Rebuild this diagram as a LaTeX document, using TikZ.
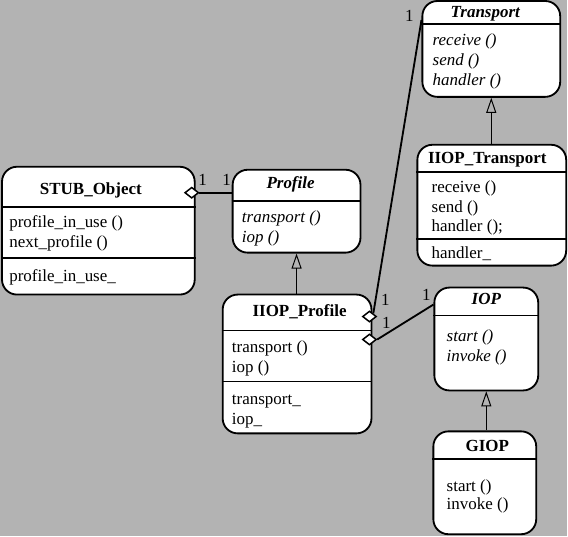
\documentclass[tikz,border=0pt]{standalone}
\usepackage{fontspec}
\setmainfont{Liberation Serif}
\usetikzlibrary{arrows.meta, fit, shapes.geometric}
\definecolor{bggray}{RGB}{179,179,179}

\begin{document}
\begin{tikzpicture}[x=0.6pt, y=-0.6pt,
    every node/.style={font=\fontsize{10.2}{12}\selectfont},
    classbox/.style={draw, fill=white, line width=1.1pt, rounded corners=9pt, inner sep=0pt},
    divider/.style={line width=1.1pt},
    member/.style={anchor=base west, inner sep=0pt},
    title/.style={anchor=base, inner sep=0pt, font=\fontsize{10.2}{12}\selectfont\bfseries},
    abstitle/.style={title, font=\fontsize{10.2}{12}\selectfont\bfseries\itshape},
    agg/.style={diamond, draw, fill=white, line width=0.9pt, inner sep=0pt, minimum width=8.4pt, minimum height=6.6pt},
    assoc/.style={line width=1.1pt},
    inherit/.style={line width=0.6pt, {Triangle[open, length=9pt, width=6pt, line width=0.6pt]}-},
    mult/.style={anchor=base, inner sep=0pt}]

    \fill[bggray] (0,0) rectangle (568,537);

    % STUB_Object
    \node[classbox, fit={(2,167) (195,295)}] (stub) {};
    \draw[divider] (stub.west |- 0,207) -- (stub.east |- 0,207);
    \draw[divider] (stub.west |- 0,258) -- (stub.east |- 0,258);
    \node[title] (stubname) at (91,195) {STUB\_Object};
    \node[member] (stubop1) at (9,228) {profile\_in\_use ()};
    \node[member] (stubop2) at (9,248) {next\_profile ()};
    \node[member] (stubatt1) at (9,282) {profile\_in\_use\_};

    % Profile
    \node[classbox, fit={(233,170) (361,253)}] (prof) {};
    \draw[divider] (prof.west |- 0,201) -- (prof.east |- 0,201);
    \node[abstitle] (profname) at (291,189) {Profile};
    \node[member] (profop1) at (242,223) {\itshape transport ()};
    \node[member] (profop2) at (242,243) {\itshape iop ()};

    % Transport
    \node[classbox, fit={(423,1) (561,97)}] (trans) {};
    \draw[divider] (trans.west |- 0,24) -- (trans.east |- 0,24);
    \node[abstitle] (transname) at (486,18) {Transport};
    \node[member] (transop1) at (433,46) {\itshape receive ()};
    \node[member] (transop2) at (433,66) {\itshape send ()};
    \node[member] (transop3) at (433,86) {\itshape handler ()};

    % IIOP_Transport
    \node[classbox, fit={(418,145) (567,266)}] (itrans) {};
    \draw[divider] (itrans.west |- 0,172) -- (itrans.east |- 0,172);
    \draw[divider] (itrans.west |- 0,239) -- (itrans.east |- 0,239);
    \node[title] (itransname) at (488,164) {IIOP\_Transport};
    \node[member] (itransop1) at (432,193) {receive ()};
    \node[member] (itransop2) at (432,213) {send ()};
    \node[member] (itransop3) at (432,232) {handler ();};
    \node[member] (itransatt1) at (432,259) {handler\_};

    % IIOP_Profile
    \node[classbox, fit={(223,295) (372,434)}] (iprof) {};
    \draw[divider] (iprof.west |- 0,331) -- (iprof.east |- 0,331);
    \draw[divider] (iprof.west |- 0,382) -- (iprof.east |- 0,382);
    \node[title] (iprofname) at (300,317) {IIOP\_Profile};
    \node[member] (iprofop1) at (232,353) {transport ()};
    \node[member] (iprofop2) at (232,373) {iop ()};
    \node[member] (iprofatt1) at (232,405) {transport\_};
    \node[member] (iprofatt2) at (232,425) {iop\_};

    % IOP
    \node[classbox, fit={(435,288) (539,391)}] (iop) {};
    \draw[divider] (iop.west |- 0,316) -- (iop.east |- 0,316);
    \node[abstitle] (iopname) at (487,305) {IOP};
    \node[member] (iopop1) at (447,342) {\itshape start ()};
    \node[member] (iopop2) at (447,362) {\itshape invoke ()};

    % GIOP
    \node[classbox, fit={(434,432) (537,535)}] (giop) {};
    \draw[divider] (giop.west |- 0,460) -- (giop.east |- 0,460);
    \node[title] (giopname) at (488,452) {GIOP};
    \node[member] (giopop1) at (447,492) {start ()};
    \node[member] (giopop2) at (447,510) {invoke ()};

    % generalizations
    \draw[inherit] (prof.south) -- (prof.south |- iprof.north);
    \draw[inherit] (trans.south) -- (trans.south |- itrans.north);
    \draw[inherit] (iop.south) -- (iop.south |- giop.north);

    % aggregations
    \node[agg] (stubagg) at (192,193) {};
    \node[agg] (transagg) at (370,317) {};
    \node[agg] (iopagg) at (370,340) {};
    \draw[assoc] (stubagg.east) -- (prof.west |- stubagg.east);
    \draw[assoc] (transagg.north east) -- (trans.west |- 0,20);
    \draw[assoc] (iopagg.east) -- (iop.west |- 0,305);

    \node[mult] (m1) at (203,186) {1};
    \node[mult] (m2) at (227,186) {1};
    \node[mult] (m3) at (410,22) {1};
    \node[mult] (m4) at (386,306) {1};
    \node[mult] (m5) at (427,301) {1};
    \node[mult] (m6) at (387,329) {1};
\end{tikzpicture}
\end{document}
